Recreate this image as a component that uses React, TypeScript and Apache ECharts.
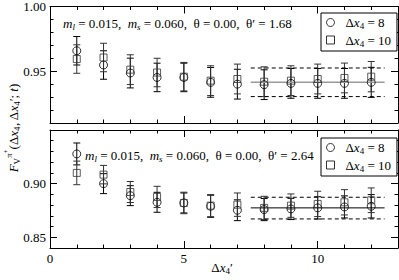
import React, { useEffect, useRef } from 'react';
import * as echarts from 'echarts';

const xVals = [1, 2, 3, 4, 5, 6, 7, 8, 9, 10, 11, 12];

const topDx8 = [0.9658, 0.9548, 0.9486, 0.9452, 0.9452, 0.9414, 0.94, 0.9396, 0.9406, 0.9406, 0.9406, 0.9414];
const topDx8Err = [0.011, 0.011, 0.0115, 0.011, 0.011, 0.0115, 0.0115, 0.0115, 0.0115, 0.0115, 0.0115, 0.0116];
const topDx10 = [0.9594, 0.9606, 0.9512, 0.949, 0.9458, 0.9427, 0.944, 0.9419, 0.9427, 0.944, 0.9448, 0.9458];
const topDx10Err = [0.011, 0.011, 0.0115, 0.011, 0.011, 0.0115, 0.0115, 0.0115, 0.0115, 0.0115, 0.0115, 0.0117];

const botDx8 = [0.9277, 0.9, 0.8888, 0.8826, 0.882, 0.8789, 0.8752, 0.8758, 0.8764, 0.8774, 0.8783, 0.8789];
const botDx8Err = [0.0102, 0.0093, 0.0093, 0.0093, 0.0093, 0.0103, 0.0097, 0.0103, 0.0099, 0.0104, 0.0103, 0.0109];
const botDx10 = [0.91, 0.9084, 0.8922, 0.8876, 0.882, 0.8795, 0.8804, 0.8774, 0.8795, 0.8811, 0.8826, 0.8845];
const botDx10Err = [0.011, 0.0086, 0.0098, 0.0099, 0.01, 0.0103, 0.0109, 0.0108, 0.0109, 0.0118, 0.0118, 0.0115];

const fitX = [7.5, 12.5];
const topFit = [0.9304, 0.9414, 0.9525];
const botFit = [0.8671, 0.8774, 0.8873];

const xMajorTicks = [0, 5, 10];
const topMajorTicks = [0.95, 1.0];
const botMajorTicks = [0.85, 0.9];
const topRange = [0.91, 1.0];
const botRange = [0.84, 0.95];
const xRange = [0, 13];

const SERIF = 'Liberation Serif';
const AX = { color: '#000', width: 1 };

const richBase = {
  r: { fontFamily: SERIF, fontSize: 13, color: '#000', lineHeight: 16 },
  i: { fontFamily: SERIF, fontSize: 13, fontStyle: 'italic', color: '#000', lineHeight: 16 },
  sub: { fontFamily: SERIF, fontSize: 9, fontStyle: 'italic', color: '#000', padding: [7, 0, 0, 0] },
  subr: { fontFamily: SERIF, fontSize: 9, color: '#000', padding: [7, 0, 0, 0] },
  sup: { fontFamily: SERIF, fontSize: 9, color: '#000', padding: [0, 0, 9, 0] },
  sup2: { fontFamily: SERIF, fontSize: 7, color: '#000', padding: [0, 0, 14, 0] },
};

function xAxes(g: number, labels: boolean) {
  const mk = (pos: string, major: boolean, lab: boolean) => ({
    type: 'value',
    gridIndex: g,
    position: pos,
    min: xRange[0],
    max: xRange[1],
    interval: major ? 5 : 1,
    axisLine: { show: !major, onZero: false, lineStyle: AX },
    axisTick: major
      ? { show: true, inside: true, length: 7, lineStyle: AX, customValues: xMajorTicks }
      : { show: true, inside: true, length: 3.5, lineStyle: AX },
    axisLabel: lab
      ? { show: true, customValues: xMajorTicks, fontFamily: SERIF, fontSize: 13, color: '#000', margin: 4 }
      : { show: false },
    splitLine: { show: false },
  });
  return [mk('bottom', false, false), mk('bottom', true, labels), mk('top', false, false), mk('top', true, false)];
}

function yAxes(g: number, range: number[], majors: number[]) {
  const mk = (pos: string, major: boolean, lab: boolean) => ({
    type: 'value',
    gridIndex: g,
    position: pos,
    min: range[0],
    max: range[1],
    interval: major ? undefined : 0.01,
    axisLine: { show: !major, onZero: false, lineStyle: AX },
    axisTick: major
      ? { show: true, inside: true, length: 7, lineStyle: AX, customValues: majors }
      : { show: true, inside: true, length: 3.5, lineStyle: AX },
    axisLabel: lab
      ? {
          show: true,
          customValues: majors,
          formatter: (v: number) => v.toFixed(2),
          fontFamily: SERIF,
          fontSize: 13,
          color: '#000',
          margin: 4,
        }
      : { show: false },
    splitLine: { show: false },
  });
  return [mk('left', false, false), mk('left', true, true), mk('right', false, false), mk('right', true, false)];
}

function errSeries(g: number, ys: number[], es: number[], color: string) {
  return {
    type: 'custom',
    xAxisIndex: g * 4,
    yAxisIndex: g * 4,
    silent: true,
    z: 1,
    data: xVals.map((x, i) => [x, ys[i], es[i]]),
    encode: { x: 0, y: 1 },
    renderItem: (_p: any, api: any) => {
      const x = api.value(0);
      const y = api.value(1);
      const e = api.value(2);
      const t = api.coord([x, y + e]);
      const b = api.coord([x, y - e]);
      const w = 3.5;
      const st = { stroke: color, lineWidth: 1 };
      return {
        type: 'group',
        children: [
          { type: 'line', shape: { x1: t[0], y1: t[1], x2: b[0], y2: b[1] }, style: st },
          { type: 'line', shape: { x1: t[0] - w, y1: t[1], x2: t[0] + w, y2: t[1] }, style: st },
          { type: 'line', shape: { x1: b[0] - w, y1: b[1], x2: b[0] + w, y2: b[1] }, style: st },
        ],
      };
    },
  };
}

function ptSeries(g: number, name: string, ys: number[], symbol: string, size: number, color: string) {
  return {
    type: 'scatter',
    name,
    xAxisIndex: g * 4,
    yAxisIndex: g * 4,
    symbol,
    symbolSize: size,
    z: 3,
    itemStyle: { color: 'transparent', borderColor: color, borderWidth: 1 },
    data: xVals.map((x, i) => [x, ys[i]]),
  };
}

function fitSeries(g: number, v: number, color: string, width: number, dashed: boolean) {
  return {
    type: 'line',
    xAxisIndex: g * 4,
    yAxisIndex: g * 4,
    symbol: 'none',
    silent: true,
    z: 2,
    lineStyle: { color, width, type: dashed ? [4, 3] : 'solid' },
    data: fitX.map((x) => [x, v]),
  };
}

function legendFor(top: number) {
  return {
    orient: 'vertical',
    left: 321,
    top,
    padding: [3, 6, 3, 5],
    itemGap: 3,
    itemWidth: 8,
    itemHeight: 8,
    borderColor: '#000',
    borderWidth: 1,
    backgroundColor: '#fff',
    selectedMode: false,
    data: [
      { name: 'dx8', icon: 'circle' },
      { name: 'dx10', icon: 'rect' },
    ],
    itemStyle: { color: 'transparent', borderColor: '#000', borderWidth: 1 },
    formatter: (n: string) => (n === 'dx8' ? '{r|Δ}{i|x}{subr|4}{r| = 8}' : '{r|Δ}{i|x}{subr|4}{r| = 10}'),
    textStyle: { fontFamily: SERIF, fontSize: 13, color: '#000', padding: [0, 0, 0, 6], rich: richBase },
  };
}

export default function App() {
  const ref = useRef<HTMLDivElement>(null);
  useEffect(() => {
    if (!ref.current) return;
    const chart = echarts.init(ref.current, null, { renderer: 'svg' });
    const option: any = {
      animation: false,
      backgroundColor: '#fff',
      grid: [
        { left: 50, top: 5, width: 348, height: 118 },
        { left: 50, top: 130, width: 348, height: 118 },
      ],
      xAxis: [...xAxes(0, false), ...xAxes(1, true)],
      yAxis: [...yAxes(0, topRange, topMajorTicks), ...yAxes(1, botRange, botMajorTicks)],
      legend: [legendFor(13), legendFor(138)],
      series: [
        fitSeries(0, topFit[1], '#999', 1.5, false),
        fitSeries(0, topFit[0], '#000', 1, true),
        fitSeries(0, topFit[2], '#000', 1, true),
        errSeries(0, topDx8, topDx8Err, '#000'),
        errSeries(0, topDx10, topDx10Err, '#333'),
        ptSeries(0, 'dx8', topDx8, 'circle', 8, '#000'),
        ptSeries(0, 'dx10', topDx10, 'rect', 7, '#333'),
        fitSeries(1, botFit[1], '#000', 1, false),
        fitSeries(1, botFit[0], '#000', 1, true),
        fitSeries(1, botFit[2], '#000', 1, true),
        errSeries(1, botDx8, botDx8Err, '#000'),
        errSeries(1, botDx10, botDx10Err, '#333'),
        ptSeries(1, 'dx8', botDx8, 'circle', 8, '#000'),
        ptSeries(1, 'dx10', botDx10, 'rect', 7, '#333'),
      ],
      graphic: [
        {
          type: 'text',
          x: 63,
          y: 23,
          style: {
            text: '{i|m}{sub|l}{r| = 0.015,  }{i|m}{sub|s}{r| = 0.060,  θ = 0.00,  θ′ = 1.68}',
            rich: richBase,
            align: 'left',
            verticalAlign: 'middle',
          },
        },
        {
          type: 'text',
          x: 85,
          y: 155,
          style: {
            text: '{i|m}{sub|l}{r| = 0.015,  }{i|m}{sub|s}{r| = 0.060,  θ = 0.00,  θ′ = 2.64}',
            rich: richBase,
            align: 'left',
            verticalAlign: 'middle',
          },
        },
        {
          type: 'text',
          x: 13,
          y: 128,
          rotation: Math.PI / 2,
          style: {
            text: '{i|F}{subr|V}{sup|π}{sup2|+}{r|(Δ}{i|x}{subr|4}{r|, Δ}{i|x}{subr|4}{r|′; }{i|t}{r|)}',
            rich: richBase,
            align: 'center',
            verticalAlign: 'middle',
          },
        },
        {
          type: 'text',
          x: 222,
          y: 267,
          style: {
            text: '{r|Δ}{i|x}{subr|4}{r|′}',
            rich: richBase,
            align: 'center',
            verticalAlign: 'middle',
          },
        },
      ],
    };
    chart.setOption(option);
    return () => chart.dispose();
  }, []);
  return <div ref={ref} style={{ position: 'fixed', left: 0, top: 0, width: 399, height: 280 }} />;
}
